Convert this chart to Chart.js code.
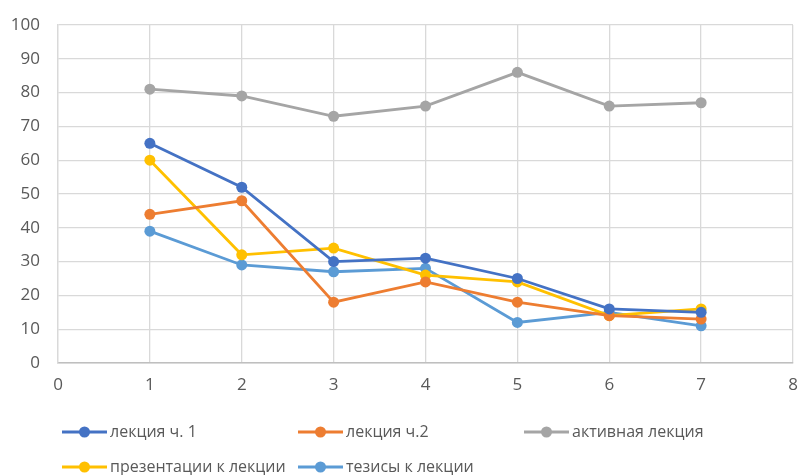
<!DOCTYPE html>
<html>
<head>
<meta charset="utf-8">
<script src="https://cdn.jsdelivr.net/npm/chart.js@4/dist/chart.umd.min.js"></script>
<style>
  html, body { margin: 0; padding: 0; background: #fff; }
  #wrap { width: 800px; height: 475px; position: relative; }
</style>
</head>
<body>
<div id="wrap"><canvas id="myChart" width="800" height="475"></canvas></div>
<script>
"use strict";

//region Data
const xValues = [1, 2, 3, 4, 5, 6, 7];
const seriesNames = ["лекция ч. 1", "лекция ч.2", "активная лекция", "презентации к лекции", "тезисы к лекции"];
const lecture1 = [65, 52, 30, 31, 25, 16, 15];
const lecture2 = [44, 48, 18, 24, 18, 14, 13];
const activeLecture = [81, 79, 73, 76, 86, 76, 77];
const presentations = [60, 32, 34, 26, 24, 14, 16];
const theses = [39, 29, 27, 28, 12, 15, 11];
const seriesColors = ["#4472C4", "#ED7D31", "#A5A5A5", "#FFC000", "#5B9BD5"];
//endregion

const FONT = "'Open Sans', sans-serif";
const allSeries = [lecture1, lecture2, activeLecture, presentations, theses];

function makeDataset(i) {
    return {
        label: seriesNames[i],
        data: xValues.map(function (x, k) { return { x: x, y: allSeries[i][k] }; }),
        borderColor: seriesColors[i],
        backgroundColor: seriesColors[i],
        borderWidth: 2.8,
        pointRadius: 5.5,
        pointHoverRadius: 5.5,
        pointBorderWidth: 0,
        tension: 0
    };
}

// legend in a fixed grid like the original
const gridLegend = {
    id: "gridLegend",
    afterDraw: function (chart) {
        let ctx = chart.ctx;
        let cols = [62, 298, 524];
        let rows = [432, 467];
        ctx.save();
        ctx.font = "16px " + FONT;
        ctx.textBaseline = "middle";
        chart.data.datasets.forEach(function (ds, i) {
            let x = cols[i % 3];
            let y = rows[Math.floor(i / 3)];
            if (i === 4) { x = 298; }
            ctx.strokeStyle = ds.borderColor;
            ctx.lineWidth = 2.8;
            ctx.beginPath();
            ctx.moveTo(x, y);
            ctx.lineTo(x + 45, y);
            ctx.stroke();
            ctx.fillStyle = ds.borderColor;
            ctx.beginPath();
            ctx.arc(x + 22.5, y, 5.5, 0, Math.PI * 2);
            ctx.fill();
            ctx.fillStyle = "#595959";
            ctx.fillText(ds.label, x + 48, y);
        });
        ctx.restore();
    }
};

let myChart = new Chart(document.getElementById("myChart"), {
    type: "line",
    data: { datasets: seriesNames.map(function (n, i) { return makeDataset(i); }) },
    options: {
        responsive: false,
        animation: false,
        layout: { padding: { left: 0, right: 0, top: 0, bottom: 82 } },
        plugins: { legend: { display: false }, tooltip: { enabled: false } },
        scales: {
            x: {
                type: "linear",
                min: 0,
                max: 8,
                ticks: { stepSize: 1, color: "#595959", font: { family: FONT, size: 17 }, padding: 12 },
                grid: { color: "#D9D9D9", lineWidth: 1.3, drawTicks: false },
                border: { color: "#BFBFBF", width: 1.5 },
                afterFit: function (scale) {
                    scale.height = 30;
                    scale.paddingLeft = 0;
                    scale.paddingRight = 7;
                }
            },
            y: {
                min: 0,
                max: 100,
                ticks: { stepSize: 10, color: "#595959", font: { family: FONT, size: 17 }, padding: 18 },
                grid: { color: "#D9D9D9", lineWidth: 1.3, drawTicks: false },
                border: { color: "#D9D9D9", width: 1.3 },
                afterFit: function (scale) {
                    scale.width = 58;
                    scale.paddingTop = 25;
                    scale.paddingBottom = 0;
                }
            }
        }
    },
    plugins: [gridLegend]
});
</script>
</body>
</html>
